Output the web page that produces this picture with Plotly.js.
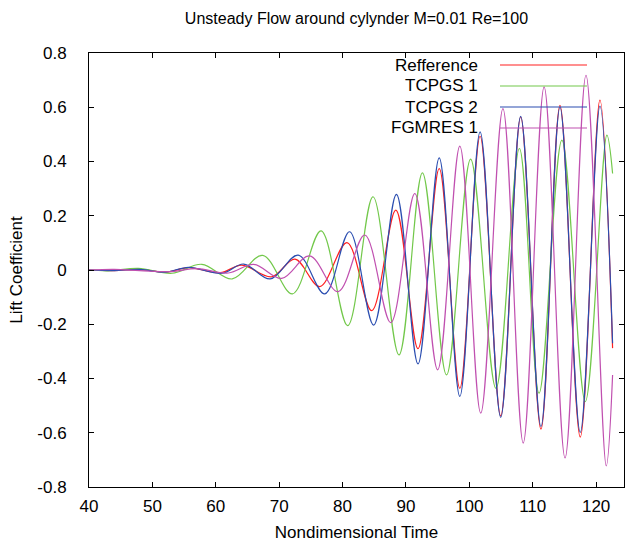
<!DOCTYPE html>
<html>
<head>
<meta charset="utf-8">
<script src="https://cdn.plot.ly/plotly-3.0.1.min.js"></script>
<style>
  html, body { margin: 0; padding: 0; background: #ffffff; }
  #chart { width: 625px; height: 542px; }
</style>
</head>
<body>
<div id="chart"></div>
<script>
// ---- Data (extrema) ----
const seriesNames = ['Refference', 'TCPGS 1', 'TCPGS 2', 'FGMRES 1'];
const seriesColors = ['#ff2020', '#72c84a', '#2a4db0', '#c050b0'];

const refTime = [40, 44, 48, 52.2, 55.7, 60.7, 64.1, 68.8, 72.5, 76.4, 80.7, 84.6, 88.4, 91.9, 95.25, 98.5, 101.7, 104.95, 108.1, 111.3, 114.3, 117.5, 120.6, 122.6];
const refLift = [0, -0.002, 0.002, -0.008, 0.009, -0.010, 0.018, -0.025, 0.040, -0.061, 0.101, -0.150, 0.221, -0.290, 0.374, -0.436, 0.493, -0.538, 0.564, -0.587, 0.607, -0.616, 0.626, -0.288];

const tcpgs1Time = [40, 43, 47.8, 53.1, 57.8, 62.6, 67.4, 72.1, 76.6, 80.8, 84.8, 88.9, 92.6, 96.4, 100.2, 104.2, 107.9, 111.0, 114.6, 118.3, 121.7, 122.6];
const tcpgs1Lift = [0, -0.003, 0.006, -0.012, 0.021, -0.033, 0.054, -0.088, 0.144, -0.205, 0.270, -0.313, 0.358, -0.387, 0.409, -0.436, 0.448, -0.454, 0.479, -0.485, 0.497, 0.356];

const tcpgs2Time = [40, 44, 48, 52, 55.7, 61, 64.4, 68.6, 73.0, 77.2, 81.1, 84.9, 88.5, 91.9, 95.25, 98.5, 101.7, 104.95, 108.1, 111.3, 114.3, 117.5, 120.6, 122.6];
const tcpgs2Lift = [0, -0.002, 0.002, -0.008, 0.010, -0.012, 0.022, -0.033, 0.055, -0.088, 0.141, -0.203, 0.279, -0.346, 0.413, -0.466, 0.509, -0.543, 0.566, -0.577, 0.600, -0.599, 0.604, -0.270];

const fgmresTime = [40, 44, 48, 53, 57, 62.0, 66.0, 70.4, 74.8, 79.3, 83.5, 87.6, 91.4, 95.0, 98.5, 101.8, 105.3, 108.5, 111.8, 115.1, 118.4, 121.6, 122.6];
const fgmresLift = [0, 0.002, -0.002, -0.006, 0.005, -0.011, 0.021, -0.031, 0.052, -0.080, 0.129, -0.194, 0.282, -0.368, 0.457, -0.528, 0.595, -0.638, 0.675, -0.693, 0.718, -0.722, -0.387];

const xTickVals = [40, 50, 60, 70, 80, 90, 100, 110, 120];
const xTickLabels = ['40', '50', '60', '70', '80', '90', '100', '110', '120'];
const yTickVals = [-0.8, -0.6, -0.4, -0.2, 0, 0.2, 0.4, 0.6, 0.8];
const yTickLabels = ['-0.8', '-0.6', '-0.4', '-0.2', '0', '0.2', '0.4', '0.6', '0.8'];

const chartTitle = 'Unsteady Flow around cylynder M=0.01 Re=100';
const xTitle = 'Nondimensional Time';
const yTitle = 'Lift Coefficient';

// ---- Build traces ----
const xs = [refTime, tcpgs1Time, tcpgs2Time, fgmresTime];
const ys = [refLift, tcpgs1Lift, tcpgs2Lift, fgmresLift];
const traces = seriesNames.map((name, i) => ({
  type: 'scatter',
  mode: 'lines',
  name: name,
  x: xs[i],
  y: ys[i],
  line: { color: seriesColors[i], width: 1.2, shape: 'spline', smoothing: 1 },
  hoverinfo: 'skip'
}));

// ---- Legend drawn gnuplot-style (text, then line sample) ----
const FONT = 'Liberation Sans, Arial, sans-serif';
const W = 625, H = 542;
const M = { l: 89, r: 1, t: 53, b: 55 };
const pw = W - M.l - M.r, ph = H - M.t - M.b;
const px2paperX = px => (px - M.l) / pw;
const py2paperY = py => (H - M.b - py) / ph;
const legendRows = [65, 86, 107, 128];
const annotations = [];
const shapes = [];
seriesNames.forEach((name, i) => {
  annotations.push({
    xref: 'paper', yref: 'paper',
    x: px2paperX(480), y: py2paperY(legendRows[i]),
    xanchor: 'right', yanchor: 'middle',
    text: name, showarrow: false,
    font: { family: FONT, size: 17, color: '#000' }
  });
  shapes.push({
    type: 'line', xref: 'paper', yref: 'paper',
    x0: px2paperX(500), x1: px2paperX(587),
    y0: py2paperY(legendRows[i]), y1: py2paperY(legendRows[i]),
    line: { color: seriesColors[i], width: 1.2 }
  });
});

const layout = {
  width: W, height: H,
  margin: M,
  paper_bgcolor: '#ffffff', plot_bgcolor: '#ffffff',
  showlegend: false,
  font: { family: FONT, color: '#000' },
  title: {
    text: chartTitle,
    font: { family: FONT, size: 16, color: '#000' },
    x: (M.l + pw / 2) / W, xanchor: 'center',
    y: 1 - 18 / H, yanchor: 'middle'
  },
  xaxis: {
    range: [40, 124.4],
    tickmode: 'array', tickvals: xTickVals, ticktext: xTickLabels,
    ticks: 'inside', ticklen: 5, tickcolor: '#000', tickwidth: 1,
    mirror: 'allticks', showline: true, linecolor: '#000', linewidth: 1,
    showgrid: false, zeroline: false,
    tickfont: { family: FONT, size: 17, color: '#000' },
    ticklabelstandoff: 4,
    title: { text: xTitle, font: { family: FONT, size: 17, color: '#000' }, standoff: 14 }
  },
  yaxis: {
    range: [-0.8, 0.8],
    tickmode: 'array', tickvals: yTickVals, ticktext: yTickLabels,
    ticks: 'inside', ticklen: 5, tickcolor: '#000', tickwidth: 1,
    mirror: 'allticks', showline: true, linecolor: '#000', linewidth: 1,
    showgrid: false, zeroline: false,
    tickfont: { family: FONT, size: 17, color: '#000' },
    ticklabelstandoff: 18,
    title: { text: yTitle, font: { family: FONT, size: 17, color: '#000' }, standoff: 10 }
  },
  annotations: annotations,
  shapes: shapes
};

Plotly.newPlot('chart', traces, layout, { staticPlot: true, displayModeBar: false });
</script>
</body>
</html>
